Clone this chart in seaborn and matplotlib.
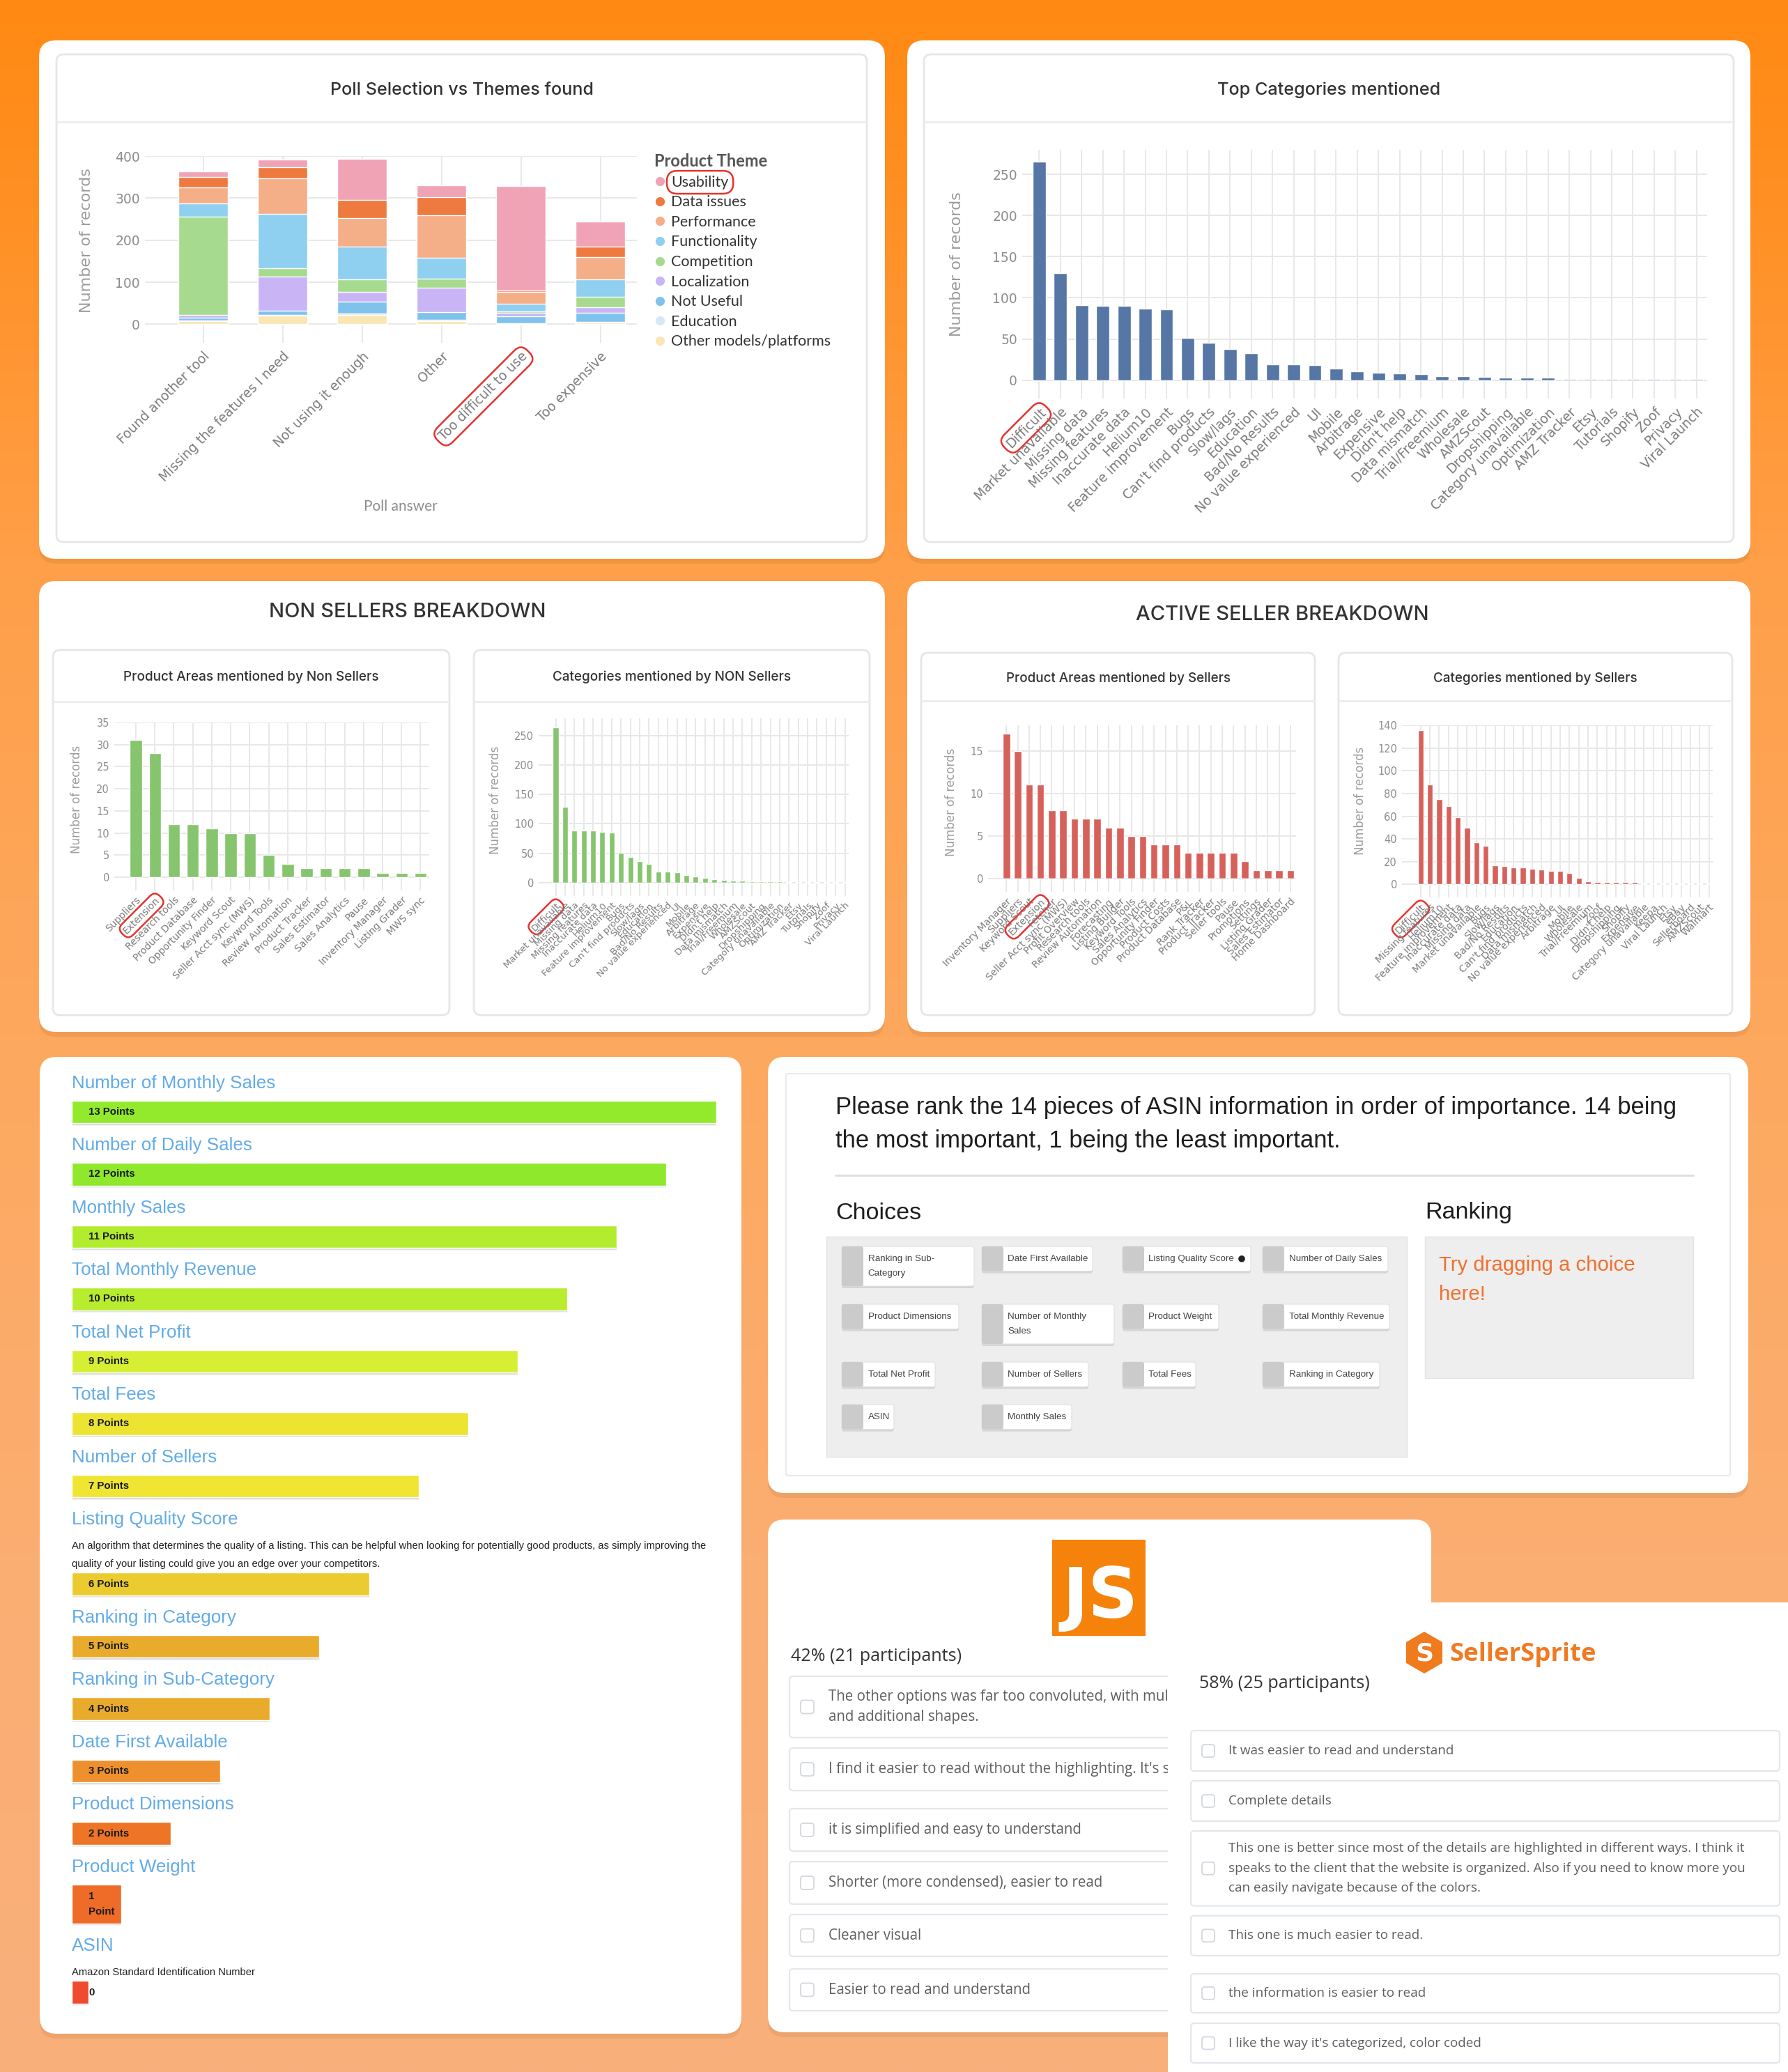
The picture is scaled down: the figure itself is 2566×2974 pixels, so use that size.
import numpy as np
import pandas as pd
import seaborn as sns
import matplotlib.pyplot as plt
from matplotlib.patches import FancyBboxPatch, Circle, RegularPolygon
from matplotlib.lines import Line2D
from matplotlib.colors import to_rgb

W, H = 2566, 2974

# ---------------- data ----------------
poll_answers = ['Found another tool', 'Missing the features I need', 'Not using it enough',
                'Other', 'Too difficult to use', 'Too expensive']
themes = ['Usability', 'Data issues', 'Performance', 'Functionality', 'Competition',
          'Localization', 'Not Useful', 'Education', 'Other models/platforms']
usability = [12, 18, 99, 27, 249, 59]
data_issues = [25, 26, 42, 44, 3, 25]
performance = [38, 85, 68, 101, 29, 54]
functionality = [32, 129, 79, 50, 17, 41]
competition = [233, 20, 29, 21, 3, 25]
localization = [8, 80, 24, 58, 9, 12]
not_useful = [6, 11, 27, 18, 17, 22]
education = [1, 2, 4, 3, 1, 2]
other_models = [8, 20, 22, 8, 1, 4]
theme_colors = ['#F1A3B6', '#EE7A40', '#F4AE88', '#8FCFEF', '#A6DB8F', '#C9B4F6',
                '#7FC3EC', '#D8E7F6', '#F9E6B4']

categories = ['Difficult', 'Market unavailable', 'Missing data', 'Missing features',
              'Inaccurate data', 'Helium10', 'Feature improvement', 'Bugs',
              "Can't find products", 'Slow/lags', 'Education', 'Bad/No Results',
              'No value experienced', 'UI', 'Mobile', 'Arbitrage', 'Expensive',
              "Didn't help", 'Data mismatch', 'Trial/Freemium', 'Wholesale', 'AMZScout',
              'Dropshipping', 'Category unavailable', 'Optimization', 'AMZ Tracker', 'Etsy',
              'Tutorials', 'Shopify', 'Zoof', 'Privacy', 'Viral Launch']
category_counts = [266, 130, 91, 90, 90, 87, 86, 51, 45, 38, 33, 19, 19, 18, 14, 11,
                   9, 8, 7, 5, 5, 4, 3, 3, 3, 1, 1, 1, 1, 1, 1, 1]
non_seller_category_counts = [264, 129, 89, 88, 88, 86, 85, 51, 44, 37, 32, 19, 19, 18, 13, 10,
                              8, 6, 5, 4, 4, 2, 2, 2, 2, 1, 1, 1, 1, 1, 1, 1]

non_seller_areas = ['Suppliers', 'Extension', 'Research tools', 'Product Database',
                    'Opportunity Finder', 'Keyword Scout', 'Seller Acct sync (MWS)',
                    'Keyword Tools', 'Review Automation', 'Product Tracker', 'Sales Estimator',
                    'Sales Analytics', 'Pause', 'Inventory Manager', 'Listing Grader', 'MWS sync']
non_seller_area_counts = [31, 28, 12, 12, 11, 10, 10, 5, 3, 2, 2, 2, 2, 1, 1, 1]

seller_areas = ['Inventory Manager', 'Suppliers', 'Keyword Scout', 'Extension', 'Fetcher',
                'Seller Acct sync (MWS)', 'Profit Overview', 'Research tools',
                'Review Automation', 'Forecasting', 'Listing Builder', 'Keyword Tools',
                'Sales Analytics', 'Opportunity Finder', 'Product Costs', 'Product Database',
                'P&L', 'Rank Tracker', 'Product Tracker', 'Seller tools', 'Pause', 'Promotions',
                'Settings', 'Listing Grader', 'Sales Estimator', 'Home Dashboard']
seller_area_counts = [17, 15, 11, 11, 8, 8, 7, 7, 7, 6, 6, 5, 5, 4, 4, 4, 3, 3, 3, 3, 3,
                      2, 1, 1, 1, 1]

seller_categories = ['Difficult', 'Missing features', 'Helium10', 'Feature improvement',
                     'Inaccurate data', 'Missing data', 'Market unavailable', 'Bugs', 'Slow/lags',
                     'Bad/No Results', 'Education', "Can't find products", 'Data mismatch',
                     'No value experienced', 'Arbitrage', 'UI', 'Mobile', 'Wholesale',
                     'Trial/Freemium', 'Zoof', "Didn't help", 'Dropshipping', 'Shopify',
                     'Expensive', 'Category unavailable', 'Keepa', 'Viral Launch', 'Etsy',
                     'eBay', 'Sellerboard', 'AMZScout', 'Walmart']
seller_category_counts = [136, 88, 75, 69, 59, 50, 37, 34, 17, 16, 15, 15, 14, 13, 12, 12,
                          10, 6, 3, 2, 2, 2, 2, 2, 1, 1, 1, 1, 1, 1, 1, 1]

rank_labels = ['Number of Monthly Sales', 'Number of Daily Sales', 'Monthly Sales',
               'Total Monthly Revenue', 'Total Net Profit', 'Total Fees', 'Number of Sellers',
               'Listing Quality Score', 'Ranking in Category', 'Ranking in Sub-Category',
               'Date First Available', 'Product Dimensions', 'Product Weight', 'ASIN']
rank_points = [13, 12, 11, 10, 9, 8, 7, 6, 5, 4, 3, 2, 1, 0]
rank_notes = [[], [], [], [], [], [], [],
              ['An algorithm that determines the quality of a listing. This can be helpful when looking '
               'for potentially good products, as simply improving the',
               'quality of your listing could give you an edge over your competitors.'],
              [], [], [], [], [],
              ['Amazon Standard Identification Number']]
rank_colors = ['#93EA2C', '#8FE82B', '#B3EC2E', '#B8EC2F', '#D6EF32', '#EDE431', '#EFE532',
               '#ECCB30', '#E9AB2C', '#E9AB2C', '#EE902D', '#EE7426', '#EE6C27', '#EE4B2F']

question = ['Please rank the 14 pieces of ASIN information in order of importance. 14 being',
            'the most important, 1 being the least important.']
choices = [['Ranking in Sub-\nCategory', 'Date First Available', 'Listing Quality Score',
            'Number of Daily Sales'],
           ['Product Dimensions', 'Number of Monthly\nSales', 'Product Weight',
            'Total Monthly Revenue'],
           ['Total Net Profit', 'Number of Sellers', 'Total Fees', 'Ranking in Category'],
           ['ASIN', 'Monthly Sales']]

js_share = '42% (21 participants)'
js_answers = ['The other options was far too convoluted, with multiple colors\nand additional shapes.',
              "I find it easier to read without the highlighting. It's simpler",
              'it is simplified and easy to understand',
              'Shorter (more condensed), easier to read',
              'Cleaner visual',
              'Easier to read and understand']
ss_share = '58% (25 participants)'
ss_answers = ['It was easier to read and understand',
              'Complete details',
              'This one is better since most of the details are highlighted in different ways. I think it\n'
              'speaks to the client that the website is organized. Also if you need to know more you\n'
              'can easily navigate because of the colors.',
              'This one is much easier to read.',
              'the information is easier to read',
              "I like the way it's categorized, color coded"]

# ---------------- canvas ----------------
sns.set_style('white')
plt.rcParams['font.family'] = ['DejaVu Sans']
fig = plt.figure(figsize=(W / 100, H / 100), dpi=100)
R = fig.canvas.get_renderer()


def fax(x0, y0, x1, y1):
    return fig.add_axes([x0 / W, 1 - y1 / H, (x1 - x0) / W, (y1 - y0) / H])


def fit(t, width):
    w = t.get_window_extent(R).width
    t.set_fontsize(t.get_fontsize() * width / w)
    return t.get_fontsize()


bg = fax(0, 0, W, H)
stops = [0, 0.1, 0.28, 0.5, 0.75, 1]
stop_cols = np.array([to_rgb(c) for c in ['#FF8912', '#FF9024', '#FFA04A', '#FDA85E',
                                          '#FBAE72', '#F9B07B']])
ys = np.linspace(0, 1, 700)
grad = np.stack([np.interp(ys, stops, stop_cols[:, k]) for k in range(3)], axis=1)
bg.imshow(np.repeat(grad[:, None, :], 2, axis=1), extent=[0, W, H, 0], aspect='auto',
          interpolation='bilinear', zorder=0)
bg.set_xlim(0, W)
bg.set_ylim(H, 0)
bg.axis('off')


def card(x0, y0, x1, y1, r=24, fc='white', ec='none', lw=0, z=1, shadow=True):
    if shadow:
        bg.add_patch(FancyBboxPatch((x0, y0 + 7), x1 - x0, y1 - y0,
                                    boxstyle=f'round,pad=0,rounding_size={r}',
                                    fc='#7A3A00', alpha=0.10, ec='none', zorder=z - 0.05))
    bg.add_patch(FancyBboxPatch((x0, y0), x1 - x0, y1 - y0,
                                boxstyle=f'round,pad=0,rounding_size={r}',
                                fc=fc, ec=ec, lw=lw, zorder=z))


def txt(x, y, s, size=12, color='#333333', ha='left', va='center', family='DejaVu Sans',
        weight='normal', z=5, **kw):
    return bg.text(x, y, s, fontsize=size, color=color, ha=ha, va=va, family=family,
                   weight=weight, zorder=z, **kw)


def panel(x0, y0, x1, y1, title, ty, sep, width):
    card(x0, y0, x1, y1, r=10, ec='#E6E6E6', lw=2, z=2, shadow=False)
    bg.plot([x0 + 1, x1 - 1], [sep, sep], color='#EDEDED', lw=2, zorder=3)
    t = txt((x0 + x1) / 2, ty, title, size=14, color='#333333', ha='center',
            family='Inter', weight='medium')
    fit(t, width)


def highlight(label):
    label.set_bbox(dict(boxstyle='round,pad=0.3,rounding_size=0.7', fc='none',
                        ec='#E8322E', lw=1.8))


def style(ax, ylim, yticks, xlim, ytfs):
    ax.set_facecolor('none')
    ax.set_xlim(*xlim)
    ax.set_ylim(*ylim)
    ax.set_yticks(yticks)
    ax.grid(True, color='#E8E8E8', lw=1.4)
    ax.set_axisbelow(True)
    for s in ax.spines.values():
        s.set_visible(False)
    ax.tick_params(length=0)
    ax.tick_params(axis='y', labelsize=ytfs, labelcolor='#8C8C8C', pad=5)
    ax.set_xlabel('')


def bar_panel(box, labels, counts, color, ylim, yticks, xlim, fs, hi, ylab_xy,
              width=0.62, ytfs=10.5, ylfs=12, pad=5):
    ax = fax(*box)
    df = pd.DataFrame({'label': labels, 'count': counts})
    sns.barplot(data=df, x='label', y='count', color=color, saturation=1, width=width,
                ax=ax, errorbar=None)
    style(ax, ylim, yticks, xlim, ytfs)
    ax.set_xticks(range(len(labels)), labels, rotation=45, ha='right', va='top',
                  rotation_mode='anchor', fontsize=fs, color='#7C7C7C')
    ax.tick_params(axis='x', pad=pad)
    ax.set_ylabel('Number of records', fontsize=ylfs, color='#9C9C9C')
    ax.yaxis.set_label_coords(*ylab_xy)
    highlight(ax.get_xticklabels()[hi])
    return ax


# ---------------- top row cards ----------------
card(56, 58, 1270, 802)
card(1302, 58, 2512, 802)
panel(81, 78, 1244, 778, 'Poll Selection vs Themes found', 130, 175, 376)
panel(1326, 78, 2488, 778, 'Top Categories mentioned', 129, 175, 319)

# stacked poll chart
ax1 = fax(208, 224, 914, 492)
stack = pd.DataFrame({'answer': poll_answers, 'Usability': usability, 'Data issues': data_issues,
                      'Performance': performance, 'Functionality': functionality,
                      'Competition': competition, 'Localization': localization,
                      'Not Useful': not_useful, 'Education': education,
                      'Other models/platforms': other_models})
for i, theme in enumerate(themes):
    heights = stack[themes[i:]].sum(axis=1)
    sns.barplot(x=stack['answer'], y=heights, color=theme_colors[i], saturation=1,
                width=0.62, ax=ax1, errorbar=None)
style(ax1, (-44, 400), range(0, 401, 100), (-0.734, 5.46), 13.5)
ax1.set_xticks(range(len(poll_answers)), poll_answers, rotation=45, ha='right', va='top',
               rotation_mode='anchor', fontsize=13.5, color='#7C7C7C')
ax1.tick_params(axis='x', pad=7)
ax1.set_ylabel('Number of records', fontsize=16, color='#9C9C9C')
ax1.yaxis.set_label_coords(-0.105, 0.55)
ax1.set_xlabel('Poll answer', fontsize=15, color='#8C8C8C', family='Lato')
ax1.xaxis.set_label_coords(0.52, -0.84)
highlight(ax1.get_xticklabels()[4])
handles = [Line2D([], [], marker='o', ls='', color=c, markersize=8.5) for c in theme_colors]
leg = ax1.legend(handles, themes, title='Product Theme', loc='upper left',
                 bbox_to_anchor=(1.035, 1.015), frameon=False, alignment='left',
                 borderaxespad=0, borderpad=0, handletextpad=0.35, labelspacing=0.4,
                 handlelength=0.8, prop={'family': 'Lato', 'size': 15.5},
                 title_fontproperties={'family': 'Lato', 'size': 17, 'weight': 'bold'})
leg.get_title().set_color('#555555')
for t in leg.get_texts():
    t.set_color('#333333')
highlight(leg.get_texts()[0])

bar_panel((1467, 215, 2450, 572), categories, category_counts, '#5677A5', (-22.4, 280),
          range(0, 251, 50), (-0.8, 31.5), 13.5, 0, (-0.085, 0.54), ytfs=13.5, ylfs=16, pad=7)

# ---------------- breakdown cards ----------------
card(56, 834, 1270, 1481)
card(1302, 834, 2512, 1481)
t = txt(585, 878, 'NON SELLERS BREAKDOWN', size=20, family='Inter', weight='medium')
t.set_ha('center')
fit(t, 397)
t = txt(1840, 882, 'ACTIVE SELLER BREAKDOWN', size=20, family='Inter', weight='medium')
t.set_ha('center')
fit(t, 421)
panel(76, 933, 645, 1457, 'Product Areas mentioned by Non Sellers', 972, 1007, 365)
panel(680, 933, 1248, 1457, 'Categories mentioned by NON Sellers', 972, 1007, 341)
panel(1322, 937, 1887, 1457, 'Product Areas mentioned by Sellers', 974, 1006, 321)
panel(1921, 937, 2486, 1457, 'Categories mentioned by Sellers', 974, 1006, 292)

green = '#86C46E'
red = '#D6615B'
bar_panel((164, 1037, 616, 1278), non_seller_areas, non_seller_area_counts, green, (-3, 35),
          range(0, 36, 5), (-1.14, 15.46), 10, 1, (-0.10, 0.54), width=0.64)
bar_panel((773, 1031, 1218, 1286), categories, non_seller_category_counts, green,
          (-22.6, 279), range(0, 251, 50), (-1.83, 31.4), 9.5, 0, (-0.12, 0.54), width=0.6)
bar_panel((1418, 1041, 1860, 1280), seller_areas, seller_area_counts, red, (-1.57, 18),
          range(0, 16, 5), (-1.61, 25.5), 10, 3, (-0.10, 0.54), width=0.65)
bar_panel((2012, 1041, 2458, 1288), seller_categories, seller_category_counts, red,
          (-11.4, 140), range(0, 141, 20), (-2.0, 31.4), 10, 0, (-0.115, 0.56), width=0.62)

# ---------------- ranking list card ----------------
card(57, 1517, 1064, 2919)
ax_r = fax(102.7, 1517, 1027.5, 2917)
ax_r.set_xlim(0, 13)
ax_r.set_ylim(2917, 1517)
ax_r.axis('off')
px = (1027.5 - 102.7) / 13
y = 1554.8
lab_size = desc_size = pts_size = None
for lab, pts, note, col in zip(rank_labels, rank_points, rank_notes, rank_colors):
    t = ax_r.text(0, y, lab, color='#62ABE8', fontsize=18, family='Liberation Sans',
                  va='center', ha='left')
    if lab_size is None:
        lab_size = fit(t, 292)
    t.set_fontsize(lab_size)
    for k, line in enumerate(note):
        d = ax_r.text(0, y + 37.7 + 25.7 * k, line, color='#222222', fontsize=9,
                      family='Liberation Sans', va='center')
        if desc_size is None:
            desc_size = fit(d, 912)
        d.set_fontsize(desc_size)
    top = y + 24.8 + 25.6 * len(note)
    h = 56 if pts == 1 else 32.5
    ax_r.barh(top + h / 2 + 2.5, max(pts, 0.34), height=h, left=0, color='#9A9A9A',
              alpha=0.35, zorder=1)
    ax_r.barh(top + h / 2, max(pts, 0.34), height=h, left=0, color=col, zorder=2)
    plab = '1\nPoint' if pts == 1 else ('0' if pts == 0 else f'{pts} Points')
    p = ax_r.text(24.5 / px, top + h / 2, plab, fontsize=9.5, weight='bold',
                  family='Liberation Sans', color='#1A1A1A', va='center', ha='left',
                  linespacing=1.75, zorder=3)
    if pts_size is None:
        pts_size = fit(p, 67)
    p.set_fontsize(pts_size)
    y = top + h + 32.2

# ---------------- ranking question card ----------------
card(1102, 1517, 2509, 2143)
card(1128, 1541, 2483, 2118, r=3, ec='#E9E9E9', lw=1.5, z=1.5, shadow=False)
q1 = txt(1199, 1589, question[0], size=22, color='#1E1E1E', family='Liberation Sans')
qs = fit(q1, 1201)
txt(1199, 1638, question[1], size=qs, color='#1E1E1E', family='Liberation Sans')
bg.plot([1199, 2430], [1687, 1687], color='#DDDDDD', lw=2, zorder=3)
c = txt(1199, 1741, 'Choices', size=24, color='#1E1E1E', family='Liberation Sans')
cs = fit(c, 123)
txt(2045, 1741, 'Ranking', size=cs, color='#1E1E1E', family='Liberation Sans')
bg.add_patch(FancyBboxPatch((1186, 1775), 833, 316, boxstyle='square,pad=0',
                            fc='#EEEEEE', ec='#E2E2E2', lw=1, zorder=2))
bg.add_patch(FancyBboxPatch((2045, 1775), 385, 203, boxstyle='square,pad=0',
                            fc='#EEEEEE', ec='#E2E2E2', lw=1, zorder=2))
tr = txt(2065, 1816.5, 'Try dragging a choice', size=16, color='#F0702E',
         family='Liberation Sans')
trs = fit(tr, 282)
txt(2065, 1858, 'here!', size=trs, color='#F0702E', family='Liberation Sans')

col_x = [1208, 1409, 1611, 1812]
row_y = [1789, 1872, 1955, 2016]
chip_w = [[190, 159, 184, 180], [168, 190, 138, 182], [134, 153, 105, 168], [75, 129]]
probe = txt(1446, 1806, 'Date First Available', size=9, family='Liberation Sans', z=4)
chip_size = fit(probe, 116)
probe.remove()
for r, row in enumerate(choices):
    for k, name in enumerate(row):
        x0, y0, cw = col_x[k], row_y[r], chip_w[r][k]
        ch = 57 if '\n' in name else 35.6
        bg.add_patch(FancyBboxPatch((x0, y0 + 3), cw, ch, boxstyle='round,pad=0,rounding_size=3',
                                    fc='#000000', alpha=0.10, ec='none', zorder=3))
        bg.add_patch(FancyBboxPatch((x0, y0), cw, ch, boxstyle='round,pad=0,rounding_size=3',
                                    fc='white', ec='#E0E0E0', lw=0.8, zorder=3.1))
        bg.add_patch(FancyBboxPatch((x0, y0), 31, ch, boxstyle='round,pad=0,rounding_size=3',
                                    fc='#CBCBCB', ec='none', zorder=3.2))
        txt(x0 + 37.5, y0 + ch / 2, name, size=chip_size, color='#444444',
            family='Liberation Sans', linespacing=1.9, z=4)
        if name == 'Listing Quality Score':
            bg.add_patch(Circle((x0 + cw - 13, y0 + ch / 2), 5.5, fc='#222222', zorder=4))

# ---------------- JS survey card ----------------
card(1102, 2181, 2054, 2917)
bg.add_patch(FancyBboxPatch((1510, 2210), 134, 138, boxstyle='square,pad=0', fc='#F5820B',
                            ec='none', zorder=3))
txt(1579, 2322, 'JS', size=72, color='white', ha='center', va='baseline', weight='heavy',
    family='DejaVu Sans', z=4)
js = txt(1135, 2377.5, js_share, size=15, color='#333333', family='Open Sans')
share_size = fit(js, 246)
js_boxes = [(2406, 2494), (2509, 2570), (2596, 2657), (2672, 2733), (2748, 2808), (2826, 2886)]
probe = txt(1189, 2626, js_answers[2], size=12, family='Open Sans', z=4)
ans_size = fit(probe, 362)
probe.remove()
for (b0, b1), ans in zip(js_boxes, js_answers):
    bg.add_patch(FancyBboxPatch((1133, b0), 900, b1 - b0, boxstyle='round,pad=0,rounding_size=5',
                                fc='white', ec='#E3E7EC', lw=1.6, zorder=3))
    bg.add_patch(FancyBboxPatch((1149, (b0 + b1) / 2 - 9.5), 19, 19,
                                boxstyle='round,pad=0,rounding_size=4',
                                fc='white', ec='#D3D7DC', lw=1.3, zorder=4))
    txt(1189, (b0 + b1) / 2, ans, size=ans_size, color='#5E5E5E', family='Open Sans',
        linespacing=1.55, z=4)

# ---------------- SellerSprite survey card ----------------
card(1676, 2300, 2640, 3060, r=26, z=6)
bg.add_patch(RegularPolygon((2044, 2372), 6, radius=30, fc='#F07A1E', ec='none', zorder=7))
txt(2044, 2374, 'S', size=26, color='white', ha='center', weight='bold', z=8)
ss = txt(2080, 2375, 'SellerSprite', size=26, color='#F07A22', weight='bold',
         family='Open Sans', z=7)
fit(ss, 211)
txt(1721, 2416.5, ss_share, size=share_size, color='#333333', family='Open Sans', z=7)
ss_boxes = [(2484, 2542), (2556, 2614), (2628, 2735.5), (2749.6, 2807), (2833, 2889), (2904, 2961)]
for (b0, b1), ans in zip(ss_boxes, ss_answers):
    bg.add_patch(FancyBboxPatch((1709, b0), 845, b1 - b0, boxstyle='round,pad=0,rounding_size=5',
                                fc='white', ec='#E3E7EC', lw=1.6, zorder=7))
    bg.add_patch(FancyBboxPatch((1725, (b0 + b1) / 2 - 9), 18, 18,
                                boxstyle='round,pad=0,rounding_size=4',
                                fc='white', ec='#D3D7DC', lw=1.3, zorder=8))
    txt(1763, (b0 + b1) / 2, ans, size=ans_size * 0.92, color='#5E5E5E',
        family='Open Sans', linespacing=1.75, z=8)

fig.savefig('out.png', dpi=100)
